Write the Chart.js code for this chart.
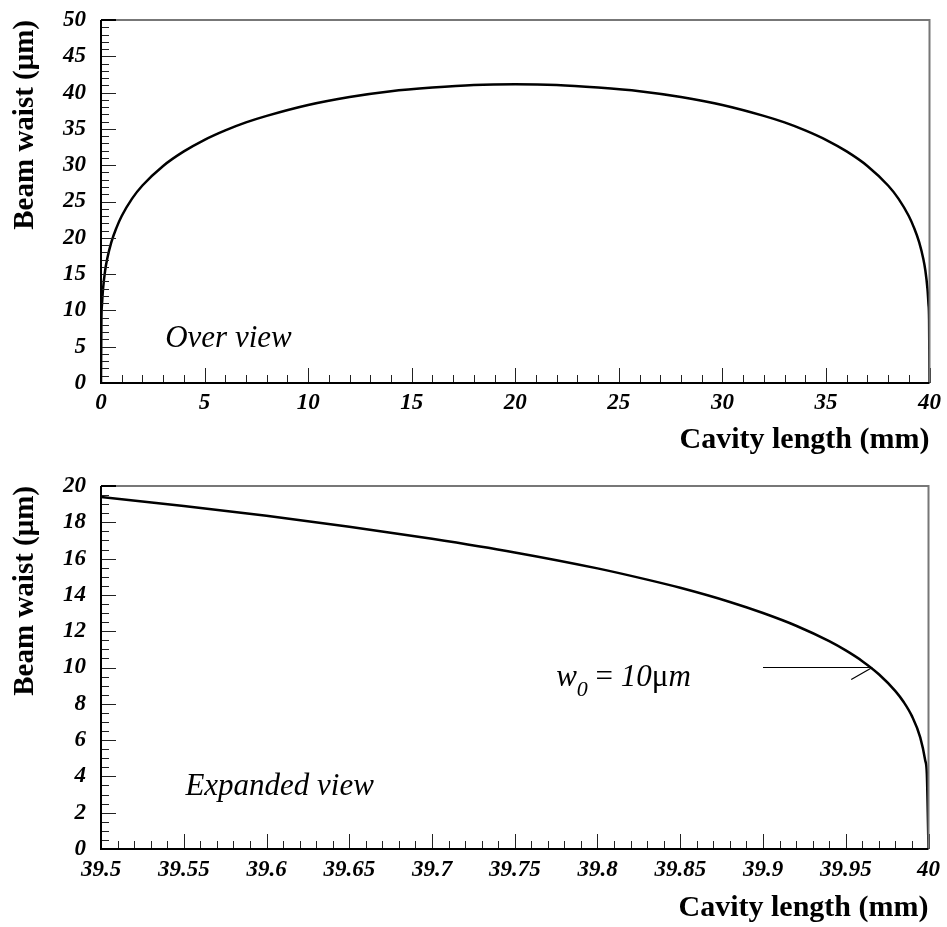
<!DOCTYPE html>
<html>
<head>
<meta charset="utf-8">
<title>Beam waist vs cavity length</title>
<script src="https://cdn.jsdelivr.net/npm/chart.js@4.4.1/dist/chart.umd.min.js"></script>
<style>
  html, body { margin: 0; padding: 0; background: #fff; }
  #wrap { position: relative; width: 947px; height: 927px; }
  canvas { position: absolute; left: 0; }
</style>
</head>
<body>
<div id="wrap">
  <canvas id="overview" width="947" height="465" style="top:0"></canvas>
  <canvas id="expanded" width="947" height="462" style="top:465px"></canvas>
</div>
<script>
// Datos: longitud de cavidad (mm) y cintura del haz (µm)
const overviewLength = [0, 0.02, 0.05, 0.1, 0.2, 0.3, 0.5, 0.75, 1, 1.5,
  2, 3, 4, 5, 6, 7, 8, 10, 12, 14,
  16, 18, 20, 22, 24, 26, 28, 30, 32, 33,
  34, 35, 36, 37, 38, 38.5, 39, 39.25, 39.5, 39.7,
  39.8, 39.9, 39.95, 39.98, 40];
const overviewWaist = [0, 8.7, 10.9, 13.0, 15.5, 17.1, 19.4, 21.4, 23.0, 25.4,
  27.2, 29.9, 31.9, 33.5, 34.8, 35.9, 36.8, 38.3, 39.4, 40.2,
  40.7, 41.05, 41.15, 41.05, 40.7, 40.2, 39.4, 38.3, 36.8, 35.9,
  34.8, 33.5, 31.9, 29.9, 27.2, 25.4, 23.0, 21.4, 19.4, 17.1,
  15.5, 13.0, 10.9, 8.7, 0];

const expandedLength = [39.5, 39.55, 39.6, 39.65, 39.7, 39.75, 39.8, 39.83, 39.85, 39.88,
  39.9, 39.92, 39.94, 39.95, 39.96, 39.97, 39.98, 39.985, 39.99, 39.995,
  39.998, 39.999, 40];
const expandedWaist = [19.40, 18.90, 18.36, 17.76, 17.09, 16.34, 15.46, 14.84, 14.39, 13.61,
  13.00, 12.30, 11.45, 10.94, 10.35, 9.63, 8.70, 8.10, 7.32, 6.15,
  4.89, 4.12, 0];

// Etiquetas de los ejes
const overviewXTicks = [0, 5, 10, 15, 20, 25, 30, 35, 40];
const overviewYTicks = [0, 5, 10, 15, 20, 25, 30, 35, 40, 45, 50];
const expandedXTicks = [39.5, 39.55, 39.6, 39.65, 39.7, 39.75, 39.8, 39.85, 39.9, 39.95, 40];
const expandedYTicks = [0, 2, 4, 6, 8, 10, 12, 14, 16, 18, 20];

const xTitle = 'Cavity length (mm)';
const yTitle = 'Beam waist (\u03bcm)';

const SERIF = "'Liberation Serif', 'Times New Roman', serif";
Chart.defaults.font.family = SERIF;
Chart.defaults.color = '#000';

// Marcas hacia dentro, marco y anotaciones
const frameTicks = {
  id: 'frameTicks',
  afterDatasetsDraw(chart, args, opts) {
    const { ctx, chartArea: a, scales: { x, y } } = chart;
    ctx.save();
    ctx.strokeStyle = '#222';
    ctx.lineWidth = 1;
    ctx.beginPath();
    const nx = Math.round((x.max - x.min) / opts.xMinor);
    for (let i = 0; i <= nx; i++) {
      const px = Math.round(x.getPixelForValue(x.min + i * opts.xMinor)) + 0.5;
      const len = i % opts.xEvery === 0 ? 15 : 8;
      ctx.moveTo(px, a.bottom);
      ctx.lineTo(px, a.bottom - len);
    }
    const ny = Math.round((y.max - y.min) / opts.yMinor);
    for (let i = 0; i <= ny; i++) {
      const py = Math.round(y.getPixelForValue(y.min + i * opts.yMinor)) + 0.5;
      const len = i % opts.yEvery === 0 ? 15 : 8;
      ctx.moveTo(a.left, py);
      ctx.lineTo(a.left + len, py);
    }
    ctx.stroke();

    // borde superior y derecho en gris
    ctx.strokeStyle = '#777';
    ctx.lineWidth = 2;
    ctx.beginPath();
    ctx.moveTo(a.left, a.top);
    ctx.lineTo(a.right, a.top);
    ctx.lineTo(a.right, a.bottom);
    ctx.stroke();
    // ejes en negro
    ctx.strokeStyle = '#000';
    ctx.beginPath();
    ctx.moveTo(a.left, a.top);
    ctx.lineTo(a.left, a.bottom);
    ctx.lineTo(a.right, a.bottom);
    ctx.stroke();
    ctx.beginPath();
    ctx.moveTo(a.left, a.top);
    ctx.lineTo(a.left + 15, a.top);
    ctx.stroke();

    // textos
    ctx.fillStyle = '#000';
    ctx.textBaseline = 'alphabetic';
    ctx.textAlign = 'left';
    (opts.notes || []).forEach(n => {
      ctx.font = 'italic 31px ' + SERIF;
      ctx.fillText(n.text, x.getPixelForValue(n.x), y.getPixelForValue(n.y));
    });

    if (opts.arrow) {
      const ar = opts.arrow;
      const x0 = x.getPixelForValue(ar.from), x1 = x.getPixelForValue(ar.to);
      const py = y.getPixelForValue(ar.y);
      ctx.strokeStyle = '#000';
      ctx.lineWidth = 1.2;
      ctx.beginPath();
      ctx.moveTo(x0, py);
      ctx.lineTo(x1, py);
      ctx.moveTo(x1, py);
      ctx.lineTo(x1 - 21, py + 12);
      ctx.stroke();

      // w0 = 10µm
      let tx = x.getPixelForValue(ar.labelX);
      const ty = y.getPixelForValue(ar.labelY);
      const parts = [
        ['italic 31px ' + SERIF, 'w', 0],
        ['italic 22px ' + SERIF, '0', 10],
        ['31px ' + SERIF, ' = ', 0],
        ['italic 31px ' + SERIF, '10', 0],
        ['31px ' + SERIF, '\u03bc', 0],
        ['italic 31px ' + SERIF, 'm', 0]
      ];
      parts.forEach(p => {
        ctx.font = p[0];
        ctx.fillText(p[1], tx, ty + p[2]);
        tx += ctx.measureText(p[1]).width;
      });
    }
    ctx.restore();
  }
};

function makeOptions(xr, yr, xTicks, yTicks, cfg) {
  const tickFont = { family: SERIF, size: 23, style: 'italic', weight: 'bold' };
  return {
    responsive: false,
    animation: false,
    layout: { padding: { left: 0, right: 17, top: cfg.top, bottom: 0 } },
    plugins: {
      legend: { display: false },
      tooltip: { enabled: false },
      frameTicks: cfg.frame
    },
    scales: {
      x: {
        type: 'linear',
        min: xr[0], max: xr[1],
        grid: { display: false, drawTicks: false },
        border: { display: false },
        afterBuildTicks: s => { s.ticks = xTicks.map(v => ({ value: v })); },
        afterFit: s => { s.height = cfg.xHeight; },
        ticks: {
          font: tickFont, color: '#000', padding: cfg.xPad,
          autoSkip: false, maxRotation: 0,
          callback: v => String(v)
        },
        title: {
          display: true, text: xTitle, align: 'end', color: '#000',
          font: { family: SERIF, size: 30, weight: 'bold' },
          padding: { top: 0, bottom: cfg.titlePad }
        }
      },
      y: {
        type: 'linear',
        min: yr[0], max: yr[1],
        grid: { display: false, drawTicks: false },
        border: { display: false },
        afterBuildTicks: s => { s.ticks = yTicks.map(v => ({ value: v })); },
        // el relleno de las etiquetas no debe empujar el área del gráfico
        afterFit: s => { s.width = 101; s.paddingTop = 0; s.paddingBottom = 0; },
        ticks: {
          font: tickFont, color: '#000', padding: 15,
          autoSkip: false,
          callback: v => String(v)
        },
        title: {
          display: true, text: yTitle, align: 'end', color: '#000',
          font: { family: SERIF, size: 29, weight: 'bold' },
          padding: { top: 8, bottom: 0 }
        }
      }
    }
  };
}

function lineData(xs, ys) {
  return {
    datasets: [{
      data: xs.map((v, i) => ({ x: v, y: ys[i] })),
      borderColor: '#000',
      borderWidth: 2.5,
      pointRadius: 0,
      fill: false,
      cubicInterpolationMode: 'monotone'
    }]
  };
}

new Chart(document.getElementById('overview'), {
  type: 'line',
  data: lineData(overviewLength, overviewWaist),
  options: makeOptions([0, 40], [0, 50], overviewXTicks, overviewYTicks, {
    top: 20, xHeight: 82, xPad: 6, titlePad: 7,
    frame: {
      xMinor: 1, xEvery: 5, yMinor: 1, yEvery: 5,
      notes: [{ text: 'Over view', x: 3.1, y: 5 }]
    }
  }),
  plugins: [frameTicks]
});

new Chart(document.getElementById('expanded'), {
  type: 'line',
  data: lineData(expandedLength, expandedWaist),
  options: makeOptions([39.5, 40], [0, 20], expandedXTicks, expandedYTicks, {
    top: 21, xHeight: 78, xPad: 7, titlePad: 1,
    frame: {
      xMinor: 0.01, xEvery: 5, yMinor: 0.5, yEvery: 4,
      notes: [{ text: 'Expanded view', x: 39.551, y: 3 }],
      arrow: { from: 39.9, to: 39.966, y: 10, labelX: 39.775, labelY: 9 }
    }
  }),
  plugins: [frameTicks]
});
</script>
</body>
</html>
